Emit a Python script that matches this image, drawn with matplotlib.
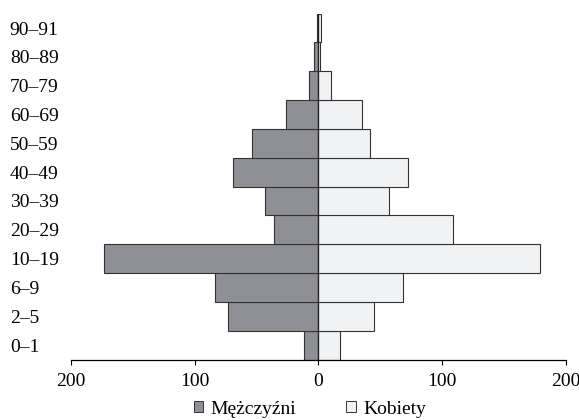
import numpy as np
import matplotlib
matplotlib.use("Agg")
import matplotlib.pyplot as plt
from matplotlib.patches import Patch

plt.rcParams['font.family'] = ['Liberation Serif', 'DejaVu Serif']

grupy = ["0–1", "2–5", "6–9", "10–19", "20–29", "30–39", "40–49",
         "50–59", "60–69", "70–79", "80–89", "90–91"]
mezczyzni = [12, 73, 84, 173, 36, 43, 69, 54, 26, 8, 4, 1]
kobiety = [17, 45, 68, 179, 109, 57, 72, 42, 35, 10, 1, 2]
xticki = [-200, -100, 0, 100, 200]

kolor_m = "#8f9095"
kolor_k = "#f1f2f4"
kolor_kraw = "#333333"

fig = plt.figure(figsize=(5.79, 4.2), dpi=100)
ax = fig.add_axes([0.1226, 0.144, 0.8549, 0.8236])

y = np.arange(len(grupy))
ax.barh(y, -np.array(mezczyzni), height=1.0, color=kolor_m,
        edgecolor=kolor_kraw, linewidth=0.8)
ax.barh(y, kobiety, height=1.0, color=kolor_k,
        edgecolor=kolor_kraw, linewidth=0.8)
ax.axvline(0, color="#222222", linewidth=0.9, ymax=1.0)

ax.set_xlim(-200, 200)
ax.set_ylim(-0.5, len(grupy) - 0.5)
ax.set_xticks(xticki)
ax.set_xticklabels([str(abs(v)) for v in xticki], fontsize=14)
ax.set_yticks(y)
ax.set_yticklabels(grupy, fontsize=14, ha="left")
ax.tick_params(axis="y", length=0, pad=44)
ax.tick_params(axis="x", direction="out", length=3.5, width=0.8, pad=6)

for s in ["top", "right", "left"]:
    ax.spines[s].set_visible(False)
ax.spines["bottom"].set_linewidth(0.9)

uchwyty = [Patch(facecolor=kolor_m, edgecolor=kolor_kraw, linewidth=0.7, label="Mężczyźni"),
           Patch(facecolor=kolor_k, edgecolor=kolor_kraw, linewidth=0.7, label="Kobiety")]
fig.legend(handles=uchwyty, loc="center", bbox_to_anchor=(0.535, 0.026), ncol=2,
           frameon=False, fontsize=14, handlelength=0.5, handleheight=0.5,
           handletextpad=0.35, columnspacing=2.6)

plt.savefig("out.png", dpi=100)
